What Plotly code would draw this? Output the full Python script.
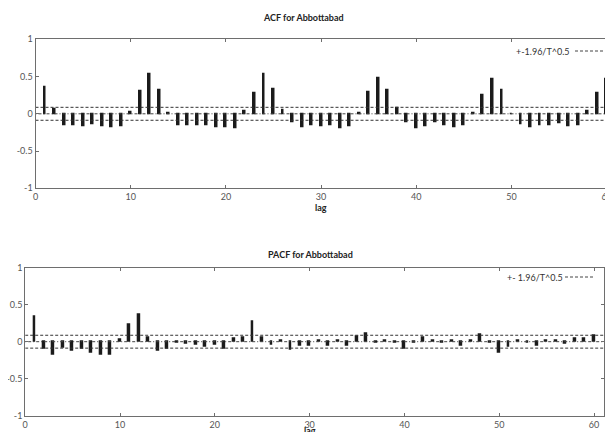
import plotly.graph_objects as go

lags = list(range(1, 61))
acf_vals = [0.35, 0.06, -0.15, -0.155, -0.17, -0.14, -0.165, -0.18, -0.17, 0.02,
            0.30, 0.53, 0.32, 0.01, -0.155, -0.15, -0.15, -0.15, -0.175, -0.18,
            -0.19, 0.04, 0.28, 0.53, 0.33, 0.05, -0.12, -0.18, -0.155, -0.165,
            -0.16, -0.20, -0.165, 0.01, 0.29, 0.47, 0.31, 0.075, -0.11, -0.19,
            -0.165, -0.12, -0.15, -0.18, -0.155, 0.01, 0.25, 0.46, 0.31, -0.01,
            -0.14, -0.18, -0.15, -0.15, -0.13, -0.17, -0.155, 0.04, 0.27, 0.46]
pacf_vals = [0.34, -0.10, -0.17, -0.08, -0.125, -0.10, -0.155, -0.17, -0.17, 0.03,
             0.23, 0.37, 0.06, -0.125, -0.09, -0.02, -0.03, -0.04, -0.07, -0.04,
             -0.10, 0.045, 0.06, 0.27, 0.055, -0.04, 0.01, -0.11, -0.05, -0.06,
             0.02, -0.05, 0.01, -0.05, 0.07, 0.11, -0.02, 0.02, -0.01, -0.10,
             -0.01, 0.05, 0.01, -0.01, 0.02, -0.05, 0.02, 0.10, -0.01, -0.15,
             -0.07, 0.02, -0.01, -0.05, 0.01, 0.02, -0.03, 0.04, 0.04, 0.085]
conf_bound = 0.087
y_ticks = [-1, -0.5, 0, 0.5, 1]
y_tick_text = ["-1", "-0.5", "0", "0.5", "1"]
x_ticks = [0, 10, 20, 30, 40, 50, 60]
titles = ["ACF for Abbottabad", "PACF for Abbottabad"]
legend_text = ["+-1.96/T^0.5", "+- 1.96/T^0.5"]

# page has an 8px body margin: figure occupies page pixels starting at 8
OFF = 8
W, H = 613 - OFF, 432 - OFF
bar_col = "#1b1b1b"
axis_col = "#6e6e6e"
font_fam = "Lato, 'Open Sans', sans-serif"


def px(xp):
    return (xp - OFF) / W


def py(yp):
    return 1 - (yp - OFF) / H


fig = go.Figure()

panels = [
    dict(vals=acf_vals, xa="x", ya="y", xr=[0, 60.56], xd=[px(35.5), px(612)],
         yd=[py(188.3), py(39.3)]),
    dict(vals=pacf_vals, xa="x2", ya="y2", xr=[0, 61.05], xd=[px(25.2), px(604)],
         yd=[py(415.7), py(267.7)]),
]

for p in panels:
    fig.add_trace(go.Bar(x=lags, y=p["vals"], xaxis=p["xa"], yaxis=p["ya"], width=0.2,
                         marker=dict(color=bar_col, line=dict(color=bar_col, width=1.5)),
                         showlegend=False, hoverinfo="x+y"))
    xr = p["xr"]
    for yv in (conf_bound, -conf_bound):
        fig.add_trace(go.Scatter(x=[xr[0], xr[1]], y=[yv, yv], xaxis=p["xa"], yaxis=p["ya"],
                                 mode="lines", line=dict(color="#333333", width=1, dash="3px,2px"),
                                 showlegend=False, hoverinfo="skip"))
    fig.add_trace(go.Scatter(x=[xr[0], xr[1]], y=[0, 0], xaxis=p["xa"], yaxis=p["ya"],
                             mode="lines", line=dict(color="#444444", width=1, dash="1px,2px,3px,2px"),
                             showlegend=False, hoverinfo="skip"))

axis_common = dict(showline=True, linecolor=axis_col, linewidth=1, mirror="ticks",
                   ticks="inside", ticklen=3, tickcolor=axis_col, showgrid=False,
                   zeroline=False, automargin=False, ticklabeloverflow="allow",
                   tickfont=dict(family=font_fam, size=9, color="#555555"))

fig.update_layout(
    template="none",
    width=W, height=H, margin=dict(l=0, r=0, t=0, b=0),
    paper_bgcolor="white", plot_bgcolor="white", bargap=0,
    xaxis=dict(domain=panels[0]["xd"], range=panels[0]["xr"], anchor="y",
               tickvals=x_ticks, **axis_common),
    yaxis=dict(domain=panels[0]["yd"], range=[-1, 1], anchor="x",
               tickvals=y_ticks, ticktext=y_tick_text, **axis_common),
    xaxis2=dict(domain=panels[1]["xd"], range=panels[1]["xr"], anchor="y2",
                tickvals=x_ticks, **axis_common),
    yaxis2=dict(domain=panels[1]["yd"], range=[-1, 1], anchor="x2",
                tickvals=y_ticks, ticktext=y_tick_text, **axis_common),
)

ann = []
ann.append(dict(x=px(303), y=py(17), text="<b>" + titles[0] + "</b>"))
ann.append(dict(x=px(310), y=py(255), text="<b>" + titles[1] + "</b>"))
ann.append(dict(x=px(321), y=py(207), text="<b>lag</b>"))
ann.append(dict(x=px(310), y=py(430), text="<b>lag</b>"))
for a in ann:
    a.update(xref="paper", yref="paper", showarrow=False,
             font=dict(family=font_fam, size=9, color="#222222"),
             xanchor="center", yanchor="middle")
    fig.add_annotation(**a)

fig.add_annotation(x=px(543), y=py(52), xref="paper", yref="paper", showarrow=False,
                   text=legend_text[0], font=dict(family=font_fam, size=9, color="#333333"),
                   xanchor="center", yanchor="middle")
fig.add_annotation(x=px(535), y=py(277.5), xref="paper", yref="paper", showarrow=False,
                   text=legend_text[1], font=dict(family=font_fam, size=9, color="#333333"),
                   xanchor="center", yanchor="middle")
fig.add_shape(type="line", xref="paper", yref="paper", x0=px(575), x1=px(603), y0=py(51), y1=py(51),
              line=dict(color="#444444", width=1, dash="3px,2px"))
fig.add_shape(type="line", xref="paper", yref="paper", x0=px(565), x1=px(593), y0=py(277), y1=py(277),
              line=dict(color="#444444", width=1, dash="3px,2px"))

fig.write_html("out.html")
